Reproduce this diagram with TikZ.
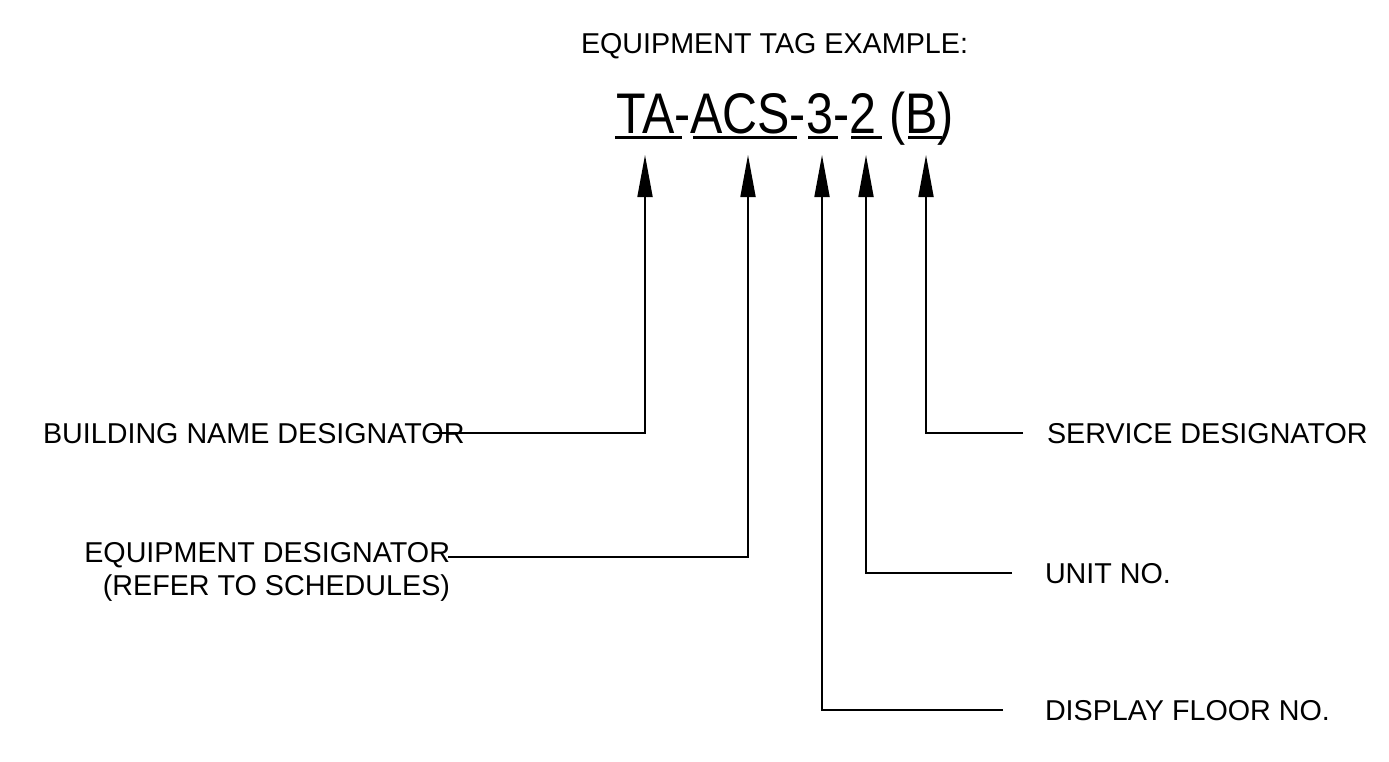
\documentclass[tikz,border=0pt]{standalone}
\usepackage{fontspec}
\setmainfont{Liberation Sans}
\usetikzlibrary{arrows.meta}
\tikzset{
  lbl/.style={font=\fontsize{28.7}{33}\selectfont, inner sep=0pt, outer sep=0pt},
  tagtext/.style={font=\fontsize{57.3}{60}\selectfont, inner sep=0pt, outer sep=0pt},
  conn/.style={line width=1.8pt, -{Triangle[length=42pt,width=15pt]}},
  uline/.style={line width=3pt}
}
\begin{document}
\begin{tikzpicture}[x=1pt,y=-1pt]
\useasboundingbox (0,0) rectangle (1389,761);

% title and tag
\node[lbl, anchor=base west] (title) at (581,53) {EQUIPMENT TAG EXAMPLE:};
\node[tagtext, anchor=base west] (tag) at (616,133) {\scalebox{0.845}[1]{TA-ACS-3-2 (B)}};

% underlines
\draw[uline] (615,137) -- (682,137);
\draw[uline] (693,137) -- (797,137);
\draw[uline] (808,137) -- (838,137);
\draw[uline] (851,137) -- (882,137);
\draw[uline] (908,137) -- (942,137);

% arrow tips
\coordinate (tipTA)  at (645,155);
\coordinate (tipACS) at (748,155);
\coordinate (tip3)   at (822,155);
\coordinate (tip2)   at (866,155);
\coordinate (tipB)   at (926,155);

% labels
\node[lbl, anchor=base west] (bld) at (43,443) {BUILDING NAME DESIGNATOR};
\node[lbl, anchor=base east] (eq1) at (450,562) {EQUIPMENT DESIGNATOR};
\node[lbl, anchor=base east] (eq2) at (450,595) {(REFER TO SCHEDULES)};
\node[lbl, anchor=base west] (svc) at (1047,443) {SERVICE DESIGNATOR};
\node[lbl, anchor=base west] (unit) at (1045,583) {UNIT NO.};
\node[lbl, anchor=base west] (disp) at (1045,720) {DISPLAY FLOOR NO.};

% connectors
\draw[conn] ([xshift=-32pt]bld.east) -| (tipTA);
\draw[conn] ([xshift=-2pt,yshift=5pt]eq1.base east) -| (tipACS);
\draw[conn] ([xshift=-42pt]disp.west) -| (tip3);
\draw[conn] ([xshift=-33pt]unit.west) -| (tip2);
\draw[conn] ([xshift=-24pt]svc.west) -| (tipB);
\end{tikzpicture}
\end{document}
